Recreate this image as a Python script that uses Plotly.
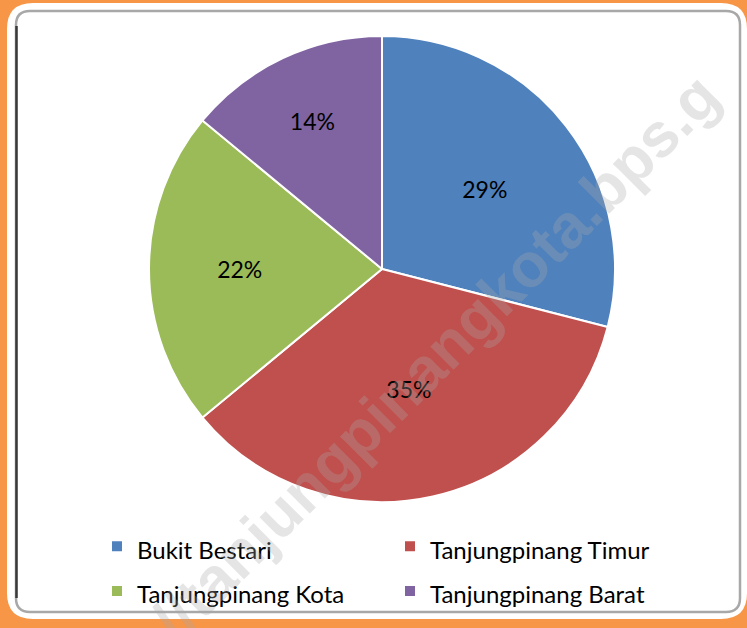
import plotly.graph_objects as go

labels = ["Bukit Bestari", "Tanjungpinang Timur", "Tanjungpinang Kota", "Tanjungpinang Barat"]
values = [29, 35, 22, 14]
colors = ["#4F81BD", "#C0504D", "#9BBB59", "#8064A2"]

W, H = 747, 628
cx, cy, r = 382, 269, 233

def px(x):
    return x / W

def py(y):
    return 1 - y / H

def rrect(x0, y0, x1, y1, rad):
    # rounded rectangle path in paper coords
    rx, ry = rad / W, rad / H
    X0, X1 = px(x0), px(x1)
    Y0, Y1 = py(y0), py(y1)  # Y0 top, Y1 bottom
    return (f"M {X0+rx},{Y0} L {X1-rx},{Y0} Q {X1},{Y0} {X1},{Y0-ry} "
            f"L {X1},{Y1+ry} Q {X1},{Y1} {X1-rx},{Y1} L {X0+rx},{Y1} "
            f"Q {X0},{Y1} {X0},{Y1+ry} L {X0},{Y0-ry} Q {X0},{Y0} {X0+rx},{Y0} Z")

legend_labels = [f"<span style='font-size:24px'>{lab}</span>" for lab in labels]

fig = go.Figure()
fig.add_trace(go.Pie(
    labels=legend_labels,
    values=values,
    sort=False,
    direction="clockwise",
    rotation=0,
    marker=dict(colors=colors, line=dict(color="white", width=2)),
    texttemplate="%{percent:.0%}",
    textposition="inside",
    insidetextorientation="horizontal",
    textfont=dict(family="Lato, Open Sans, sans-serif", size=23, color="black"),
    domain=dict(x=[px(cx - r), px(cx + r)], y=[py(cy + r), py(cy - r)]),
    hoverinfo="label+percent",
))

shapes = [
    dict(type="path", xref="paper", yref="paper", path=rrect(7, 3, 747, 619, 26),
         fillcolor="white", line=dict(width=0), layer="below"),
    dict(type="path", xref="paper", yref="paper", path=rrect(16, 11, 740, 612, 14),
         fillcolor="white", line=dict(color="#a8a8a8", width=2.5), layer="below"),
    dict(type="line", xref="paper", yref="paper", x0=px(16.5), x1=px(16.5), y0=py(26), y1=py(598),
         line=dict(color="#3a3a3a", width=2.5), layer="below"),
]

fig.add_annotation(
    text="<b>//tanjungpinangkota.bps.g</b>", xref="paper", yref="paper",
    x=px(435), y=py(357), showarrow=False, textangle=-45,
    font=dict(family="Liberation Sans, Arial, sans-serif", size=62, color="rgba(170,170,170,0.3)"),
)

fig.update_layout(
    width=W, height=H,
    margin=dict(l=0, r=0, t=0, b=0),
    paper_bgcolor="#F79646",
    plot_bgcolor="white",
    shapes=shapes,
    showlegend=True,
    legend=dict(
        orientation="h",
        x=px(97), y=py(519), xanchor="left", yanchor="top",
        entrywidth=248,
        font=dict(family="Lato, Open Sans, sans-serif", size=32, color="black"),
        bgcolor="rgba(0,0,0,0)",
        itemclick=False,
    ),
)

fig.write_html("out.html", config={"displayModeBar": False},
               post_script="document.body.style.margin='0';document.body.style.padding='0';")
